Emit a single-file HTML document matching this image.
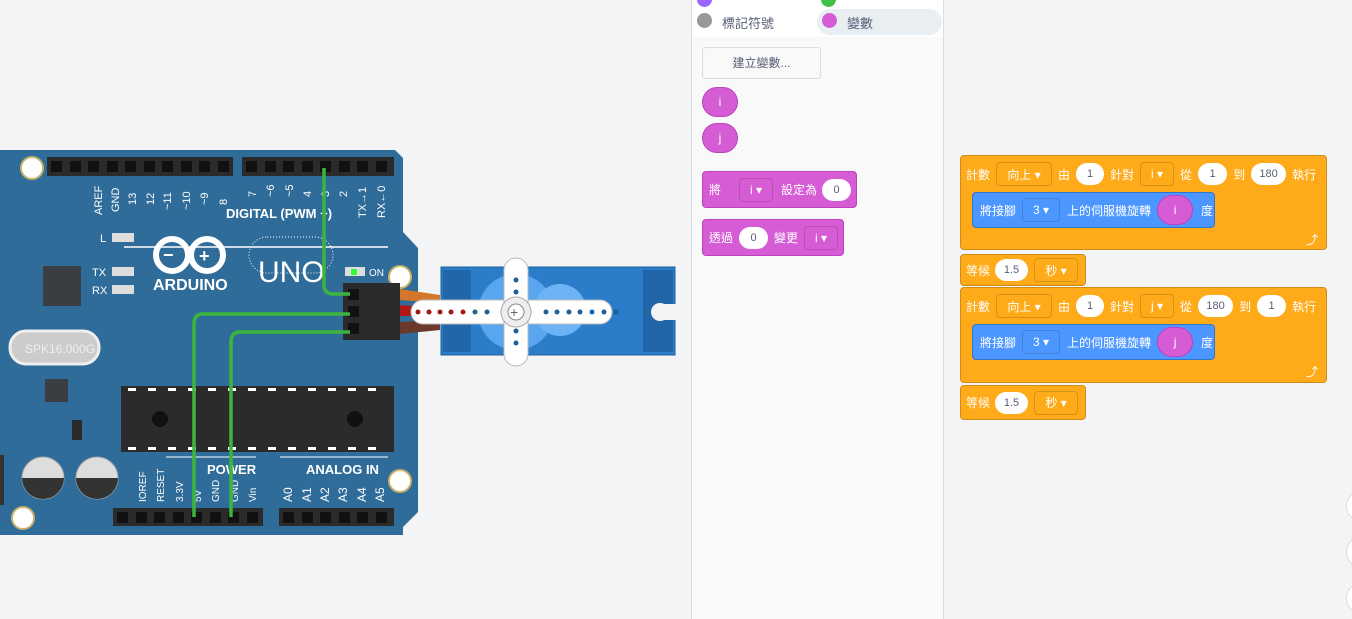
<!DOCTYPE html>
<html><head><meta charset="utf-8"><style>
body{margin:0;width:1352px;height:619px;overflow:hidden;background:#f3f4f6;font-family:"Liberation Sans","Noto Sans CJK TC",sans-serif;position:relative}
.panel{position:absolute;left:691px;top:0;width:251px;height:619px;background:#f9f9f9;border-left:1px solid #ddd;border-right:1px solid #ddd}
.cat{position:absolute;left:0;top:0;width:251px;height:37px;background:#fff}
.ab{position:absolute;font-size:12px;color:#fff;display:flex;align-items:center;box-sizing:border-box;white-space:nowrap}
.pill{background:#fff;color:#575e75;border-radius:12px;height:22px;display:inline-flex;align-items:center;justify-content:center;font-size:11px}
.dd{border:1px solid rgba(0,0,0,.15);border-radius:4px;height:24px;display:inline-flex;align-items:center;justify-content:center;font-size:12px;color:#fff;box-sizing:border-box}
.or{background:#ffab19;border:1px solid #cf8b17}
.bl{background:#4c97ff;border:1px solid #3373cc}
.pu{background:#d65cd6;border:1px solid #bd42bd}
.m{margin-left:6px}
</style></head><body>
<svg width="690" height="619" style="position:absolute;left:0;top:0">
<path d="M0 150 H395 L403 158 V232 L418 248 V512 L403 527 V535 H0 Z" fill="#2f6c99"/>
<g fill="#fff" stroke="#c9b26a" stroke-width="2"><circle cx="32" cy="168" r="11"/><circle cx="400" cy="277" r="11"/><circle cx="400" cy="481" r="11"/><circle cx="23" cy="518" r="11"/></g>
<g fill="#2b2b2b"><rect x="47" y="157" width="186" height="19"/><rect x="242" y="157" width="152" height="19"/><rect x="113" y="508" width="150" height="18"/><rect x="279" y="508" width="115" height="18"/></g>
<g fill="#111">
<rect x="51" y="161" width="11" height="11"/><rect x="70" y="161" width="11" height="11"/><rect x="88" y="161" width="11" height="11"/><rect x="107" y="161" width="11" height="11"/><rect x="125" y="161" width="11" height="11"/><rect x="144" y="161" width="11" height="11"/><rect x="162" y="161" width="11" height="11"/><rect x="181" y="161" width="11" height="11"/><rect x="199" y="161" width="11" height="11"/><rect x="218" y="161" width="11" height="11"/>
<rect x="246" y="161" width="11" height="11"/><rect x="265" y="161" width="11" height="11"/><rect x="283" y="161" width="11" height="11"/><rect x="302" y="161" width="11" height="11"/><rect x="320" y="161" width="11" height="11"/><rect x="339" y="161" width="11" height="11"/><rect x="357" y="161" width="11" height="11"/><rect x="376" y="161" width="11" height="11"/>
<rect x="117" y="512" width="11" height="11"/><rect x="136" y="512" width="11" height="11"/><rect x="154" y="512" width="11" height="11"/><rect x="173" y="512" width="11" height="11"/><rect x="191" y="512" width="11" height="11"/><rect x="210" y="512" width="11" height="11"/><rect x="228" y="512" width="11" height="11"/><rect x="247" y="512" width="11" height="11"/>
<rect x="283" y="512" width="11" height="11"/><rect x="302" y="512" width="11" height="11"/><rect x="320" y="512" width="11" height="11"/><rect x="339" y="512" width="11" height="11"/><rect x="357" y="512" width="11" height="11"/><rect x="376" y="512" width="11" height="11"/></g>
<g fill="#fff" font-size="11" font-family="Liberation Sans">
<text transform="translate(102,215) rotate(-90)">AREF</text><text transform="translate(119,212) rotate(-90)">GND</text>
<text transform="translate(136,205) rotate(-90)">13</text><text transform="translate(154,205) rotate(-90)">12</text><text transform="translate(171,210) rotate(-90)">~11</text><text transform="translate(190,210) rotate(-90)">~10</text><text transform="translate(208,205) rotate(-90)">~9</text><text transform="translate(227,205) rotate(-90)">8</text>
<text transform="translate(256,197) rotate(-90)">7</text><text transform="translate(274,197) rotate(-90)">~6</text><text transform="translate(293,197) rotate(-90)">~5</text><text transform="translate(311,197) rotate(-90)">4</text><text transform="translate(329,197) rotate(-90)">3</text><text transform="translate(347,197) rotate(-90)">2</text><text transform="translate(366,218) rotate(-90)">TX→1</text><text transform="translate(385,218) rotate(-90)">RX←0</text>
<text x="226" y="218" font-size="13" font-weight="bold">DIGITAL (PWM ~)</text>
<text x="100" y="242">L</text><text x="92" y="276">TX</text><text x="92" y="294">RX</text>
<text x="153" y="290" font-size="16" font-weight="bold">ARDUINO</text>
<text x="258" y="282" font-size="30">UNO</text>
<text x="369" y="276" font-size="10">ON</text>
<text x="207" y="474" font-size="13" font-weight="bold">POWER</text><text x="306" y="474" font-size="13" font-weight="bold">ANALOG IN</text>
<text transform="translate(146,502) rotate(-90)" font-size="10">IOREF</text><text transform="translate(164,502) rotate(-90)" font-size="10">RESET</text><text transform="translate(183,502) rotate(-90)" font-size="10">3.3V</text><text transform="translate(201,502) rotate(-90)" font-size="10">5V</text><text transform="translate(219,502) rotate(-90)" font-size="10">GND</text><text transform="translate(238,502) rotate(-90)" font-size="10">GND</text><text transform="translate(256,502) rotate(-90)" font-size="10">Vin</text>
<text transform="translate(292,502) rotate(-90)" font-size="12">A0</text><text transform="translate(311,502) rotate(-90)" font-size="12">A1</text><text transform="translate(329,502) rotate(-90)" font-size="12">A2</text><text transform="translate(347,502) rotate(-90)" font-size="12">A3</text><text transform="translate(366,502) rotate(-90)" font-size="12">A4</text><text transform="translate(384,502) rotate(-90)" font-size="12">A5</text>
</g>
<line x1="124" y1="247" x2="388" y2="247" stroke="#fff" stroke-width="1.5"/>
<line x1="166" y1="457" x2="256" y2="457" stroke="#fff"/><line x1="280" y1="457" x2="388" y2="457" stroke="#fff"/>
<g fill="#ddd"><rect x="112" y="233" width="22" height="9"/><rect x="112" y="267" width="22" height="9"/><rect x="112" y="285" width="22" height="9"/><rect x="345" y="267" width="20" height="9"/></g>
<rect x="351" y="269" width="6" height="6" fill="#3f3"/>
<g fill="none" stroke="#fff" stroke-width="6"><circle cx="172" cy="255" r="16"/><circle cx="207" cy="255" r="16"/></g>
<text x="163" y="261" fill="#fff" font-size="18" font-weight="bold">−</text><text x="199" y="262" fill="#fff" font-size="18" font-weight="bold">+</text>
<rect x="249" y="237" width="84" height="36" rx="18" fill="none" stroke="#fff" stroke-dasharray="1 2"/>
<rect x="43" y="266" width="38" height="40" fill="#3a3d42"/>
<rect x="10" y="331" width="89" height="33" rx="16" fill="#ccc" stroke="#eee" stroke-width="3"/>
<text x="25" y="353" fill="#eee" font-size="12">SPK16.000G</text>
<rect x="45" y="379" width="23" height="23" fill="#3a3d42"/>
<rect x="72" y="420" width="10" height="20" fill="#2b2b2b"/>
<g><circle cx="43" cy="478" r="21" fill="#ddd" stroke="#aaa"/><path d="M22 478 A21 21 0 0 0 64 478 Z" fill="#333"/><circle cx="97" cy="478" r="21" fill="#ddd" stroke="#aaa"/><path d="M76 478 A21 21 0 0 0 118 478 Z" fill="#333"/></g>
<rect x="0" y="455" width="4" height="50" fill="#333"/>
<rect x="121" y="386" width="273" height="66" fill="#2b2b2b"/>
<circle cx="160" cy="419" r="8" fill="#111"/><circle cx="355" cy="419" r="8" fill="#111"/>
<g fill="#fff"><rect x="128" y="388" width="8" height="3"/><rect x="148" y="388" width="8" height="3"/><rect x="168" y="388" width="8" height="3"/><rect x="188" y="388" width="8" height="3"/><rect x="208" y="388" width="8" height="3"/><rect x="228" y="388" width="8" height="3"/><rect x="248" y="388" width="8" height="3"/><rect x="268" y="388" width="8" height="3"/><rect x="288" y="388" width="8" height="3"/><rect x="308" y="388" width="8" height="3"/><rect x="328" y="388" width="8" height="3"/><rect x="348" y="388" width="8" height="3"/><rect x="368" y="388" width="8" height="3"/>
<rect x="128" y="447" width="8" height="3"/><rect x="148" y="447" width="8" height="3"/><rect x="168" y="447" width="8" height="3"/><rect x="188" y="447" width="8" height="3"/><rect x="208" y="447" width="8" height="3"/><rect x="228" y="447" width="8" height="3"/><rect x="248" y="447" width="8" height="3"/><rect x="268" y="447" width="8" height="3"/><rect x="288" y="447" width="8" height="3"/><rect x="308" y="447" width="8" height="3"/><rect x="328" y="447" width="8" height="3"/><rect x="348" y="447" width="8" height="3"/><rect x="368" y="447" width="8" height="3"/></g>
<path d="M400 289 L440 295 V303 L400 300Z" fill="#d4772c"/><path d="M400 305 L440 308 V316 L400 316Z" fill="#b01818"/><path d="M400 322 L440 320 V330 L400 334Z" fill="#6b3a2a"/>
<rect x="441" y="267" width="234" height="88" fill="#2b7dc9" stroke="#1d5f9c"/>
<rect x="443" y="270" width="28" height="82" fill="#2266aa"/><rect x="643" y="270" width="30" height="82" fill="#2266aa"/>
<circle cx="660" cy="312" r="9" fill="#f3f4f6"/><rect x="660" y="304" width="16" height="16" fill="#f3f4f6"/>
<circle cx="516" cy="312" r="38" fill="#5aa6ee"/><circle cx="560" cy="310" r="26" fill="#6cb4f5"/>
<path d="M423 300 H600 a12 12 0 0 1 0 24 H423 a12 12 0 0 1 0-24Z" fill="#fff" stroke="#bbb"/>
<path d="M504 270 a12 12 0 0 1 24 0 V354 a12 12 0 0 1 -24 0Z" fill="#fff" stroke="#bbb"/>
<circle cx="516" cy="312" r="15" fill="#eee" stroke="#aaa"/><circle cx="516" cy="312" r="8" fill="#fff" stroke="#888"/>
<text x="510" y="317" font-size="14" fill="#666">+</text>
<g fill="#a01818"><circle cx="418" cy="312" r="2.5"/><circle cx="429" cy="312" r="2.5"/><circle cx="440" cy="312" r="2.5"/><circle cx="451" cy="312" r="2.5"/><circle cx="463" cy="312" r="2.5"/></g>
<g fill="#1d5f9c"><circle cx="475" cy="312" r="2.5"/><circle cx="487" cy="312" r="2.5"/><circle cx="546" cy="312" r="2.5"/><circle cx="557" cy="312" r="2.5"/><circle cx="569" cy="312" r="2.5"/><circle cx="580" cy="312" r="2.5"/><circle cx="592" cy="312" r="2.5"/><circle cx="604" cy="312" r="2.5"/><circle cx="616" cy="312" r="2.5"/><circle cx="516" cy="280" r="2.5"/><circle cx="516" cy="292" r="2.5"/><circle cx="516" cy="331" r="2.5"/><circle cx="516" cy="343" r="2.5"/></g>
<rect x="343" y="283" width="57" height="57" fill="#2b2b2b"/>
<g fill="#111"><rect x="348" y="289" width="11" height="11"/><rect x="348" y="306" width="11" height="11"/><rect x="348" y="323" width="11" height="11"/></g>
<g fill="none" stroke="#3cb53c" stroke-width="3.5">
<path d="M324 168 V285 Q324 294 334 294 H350"/>
<path d="M350 314 H203 Q194 314 194 324 V517"/>
<path d="M350 332 H240 Q231 332 231 342 V517"/></g>
</svg>
<div class="panel"><div class="cat">
<div style="position:absolute;left:5px;top:-8px;width:15px;height:15px;border-radius:50%;background:#9966ff"></div>
<div style="position:absolute;left:129px;top:-8px;width:15px;height:15px;border-radius:50%;background:#40bf4a"></div>
<div style="position:absolute;left:125px;top:9px;width:125px;height:26px;border-radius:13px;background:#e9eef2"></div>
<div style="position:absolute;left:5px;top:13px;width:15px;height:15px;border-radius:50%;background:#999"></div>
<div style="position:absolute;left:30px;top:13px;font-size:13px;color:#575e75">標記符號</div>
<div style="position:absolute;left:130px;top:13px;width:15px;height:15px;border-radius:50%;background:#d65cd6"></div>
<div style="position:absolute;left:155px;top:13px;font-size:13px;color:#575e75">變數</div>
</div>
<div style="position:absolute;left:10px;top:47px;width:117px;height:30px;border:1px solid #ddd;border-radius:3px;background:#f9f9f9;font-size:12px;color:#575e75;text-align:center;line-height:30px">建立變數...</div>
<div class="ab pu" style="left:10px;top:87px;width:36px;height:30px;border-radius:15px;justify-content:center">i</div>
<div class="ab pu" style="left:10px;top:123px;width:36px;height:30px;border-radius:15px;justify-content:center">j</div>
<div class="ab pu" style="left:10px;top:171px;width:155px;height:37px;border-radius:4px;padding-left:6px">將<span class="dd" style="width:34px;margin-left:18px;background:#d65cd6">i ▾</span><span style="margin-left:8px">設定為</span><span class="pill" style="width:29px;margin-left:5px">0</span></div>
<div class="ab pu" style="left:10px;top:219px;width:142px;height:37px;border-radius:4px;padding-left:6px">透過<span class="pill" style="width:29px;margin-left:6px">0</span><span style="margin-left:6px">變更</span><span class="dd" style="width:34px;margin-left:6px;background:#d65cd6">i ▾</span></div>
</div>
<div class="or" style="position:absolute;left:960px;top:155px;width:367px;height:95px;border-radius:4px;box-sizing:border-box"></div>
<div class="ab" style="left:966px;top:160px;height:28px">計數<span class="dd m" style="width:56px">向上 ▾</span><span class="m">由</span><span class="pill m" style="width:28px">1</span><span class="m">針對</span><span class="dd m" style="width:34px">i ▾</span><span class="m">從</span><span class="pill m" style="width:29px">1</span><span class="m">到</span><span class="pill m" style="width:35px">180</span><span class="m">執行</span></div>
<div class="ab bl" style="left:972px;top:192px;width:243px;height:36px;border-radius:4px;padding-left:7px">將接腳<span class="dd" style="width:38px;margin-left:6px">3 ▾</span><span style="margin-left:7px">上的伺服機旋轉</span><span class="ab pu" style="position:static;width:36px;height:30px;border-radius:15px;justify-content:center;margin-left:6px">i</span><span style="margin-left:8px">度</span></div>
<div class="ab" style="left:1306px;top:231px">⤴</div>
<div class="or ab" style="left:960px;top:254px;width:126px;height:32px;border-radius:4px;padding-left:5px">等候<span class="pill" style="width:33px;margin-left:5px">1.5</span><span class="dd" style="width:44px;margin-left:6px">秒 ▾</span></div>
<div class="or" style="position:absolute;left:960px;top:287px;width:367px;height:96px;border-radius:4px;box-sizing:border-box"></div>
<div class="ab" style="left:966px;top:292px;height:28px">計數<span class="dd m" style="width:56px">向上 ▾</span><span class="m">由</span><span class="pill m" style="width:28px">1</span><span class="m">針對</span><span class="dd m" style="width:34px">j ▾</span><span class="m">從</span><span class="pill m" style="width:35px">180</span><span class="m">到</span><span class="pill m" style="width:29px">1</span><span class="m">執行</span></div>
<div class="ab bl" style="left:972px;top:324px;width:243px;height:36px;border-radius:4px;padding-left:7px">將接腳<span class="dd" style="width:38px;margin-left:6px">3 ▾</span><span style="margin-left:7px">上的伺服機旋轉</span><span class="ab pu" style="position:static;width:36px;height:30px;border-radius:15px;justify-content:center;margin-left:6px">j</span><span style="margin-left:8px">度</span></div>
<div class="ab" style="left:1306px;top:363px">⤴</div>
<div class="or ab" style="left:960px;top:385px;width:126px;height:35px;border-radius:4px;padding-left:5px">等候<span class="pill" style="width:33px;margin-left:5px">1.5</span><span class="dd" style="width:44px;margin-left:6px">秒 ▾</span></div>
<div style="position:absolute;left:1346px;top:490px;width:30px;height:30px;border-radius:50%;border:1px solid #ddd;background:#fff"></div>
<div style="position:absolute;left:1346px;top:536px;width:30px;height:30px;border-radius:50%;border:1px solid #ddd;background:#fff"></div>
<div style="position:absolute;left:1346px;top:582px;width:30px;height:30px;border-radius:50%;border:1px solid #ddd;background:#fff"></div>
</body></html>
